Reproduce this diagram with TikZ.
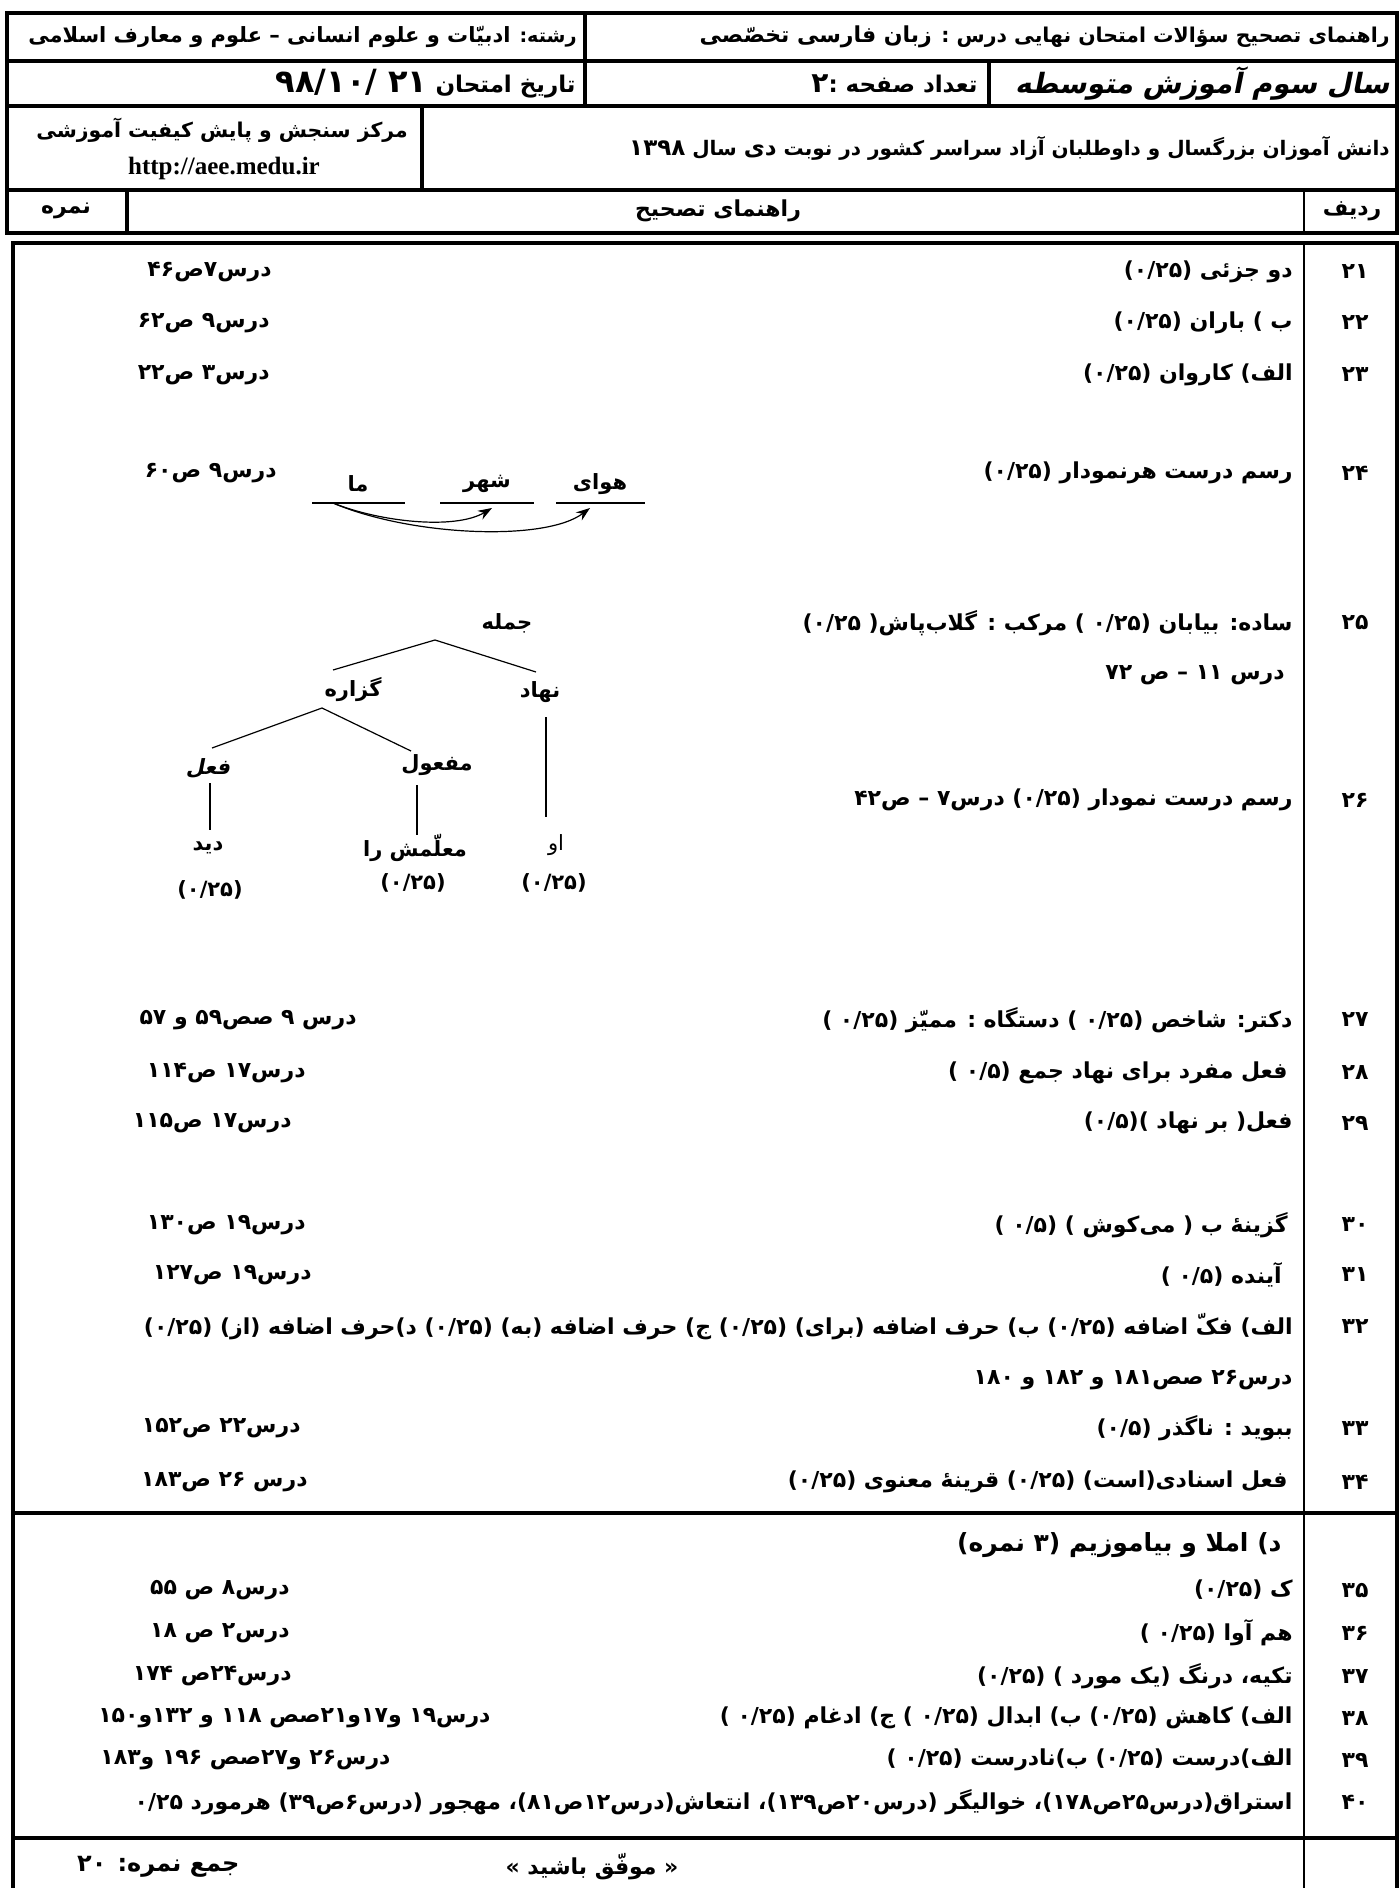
\documentclass[tikz,border=0pt]{standalone}
\usepackage{fontspec}
\usetikzlibrary{arrows.meta,calc,positioning}
\setmainfont{Liberation Serif}
\newfontfamily\fa[Script=Arabic]{DejaVu Sans}
\newfontfamily\fasl[Script=Arabic,FakeSlant=0.2]{DejaVu Sans}
\TeXXeTstate=1
\newcommand{\titr}[2][11]{{\fontsize{#1}{14}\selectfont #2}}

\begin{document}
\begin{tikzpicture}[x=0.5pt,y=-0.5pt,
    hline/.style={line width=1.6pt},
    frame/.style={line width=2pt},
    sepline/.style={line width=0.8pt},
    treeline/.style={line width=0.6pt},
    head/.style={anchor=east,inner sep=0pt,font=\fa\bfseries\fontsize{10.2}{13}\selectfont},
    ans/.style={anchor=east,inner sep=0pt,font=\fa\bfseries\fontsize{11}{13}\selectfont},
    dars/.style={ans},
    radif/.style={inner sep=0pt,font=\fa\bfseries\fontsize{11}{13}\selectfont},
    word/.style={inner sep=0pt,font=\fa\bfseries\fontsize{10.5}{12}\selectfont}]
\useasboundingbox (0,0) rectangle (1399,1888);

% header
\draw[hline] (7,13) rectangle (1397,233);
\draw[hline] (7,61) -- (1397,61);
\draw[hline] (7,106) -- (1397,106);
\draw[hline] (7,190) -- (1397,190);
\draw[hline] (585,13) -- (585,106);
\draw[hline] (989,61) -- (989,106);
\draw[hline] (422,106) -- (422,190);
\draw[hline] (127,190) -- (127,233);
\draw[sepline] (1304,190) -- (1304,233);

\node[head] (h1) at (1390,37) {\beginR راهنمای تصحیح سؤالات امتحان نهایی درس :  \titr{زبان فارسی تخصّصی}\endR};
\node[head,font=\fa\bfseries\fontsize{9.6}{13}\selectfont] (h2) at (577,37) {\beginR رشته: \titr[10.5]{ادبیّات و علوم انسانی – علوم و معارف اسلامی}\endR};
\node[head,font=\fasl\bfseries\fontsize{14}{16}\selectfont] (h3) at (1390,84) {\beginR سال سوم آموزش متوسطه\endR};
\node[head,font=\fa\bfseries\fontsize{11.5}{13}\selectfont] (h4) at (978,84) {\beginR تعداد صفحه :\titr[14]{۲}\endR};
\node[head,font=\fa\bfseries\fontsize{11.5}{13}\selectfont] (h5) at (576,84) {\beginR تاریخ امتحان  \titr[16]{\beginL ۹۸\kern0pt/\kern0pt۱۰\kern0pt/\kern0pt\ ۲۱\endL}\endR};
\node[head,font=\fa\bfseries\fontsize{10}{13}\selectfont] (h6) at (1390,148) {\beginR دانش آموزان بزرگسال و داوطلبان آزاد سراسر کشور در نوبت \titr[11.5]{دی} سال \titr[11.5]{۱۳۹۸}\endR};
\node[head,anchor=center] (h7) at (222,130) {\beginR مرکز سنجش و پایش کیفیت آموزشی\endR};
\node[inner sep=0pt,font=\bfseries\fontsize{12.5}{14}\selectfont] (h8) at (224,168) {http://aee.medu.ir};
\node[radif] (h9) at (1352,211) {\beginR ردیف\endR};
\node[radif] (h10) at (718,211) {\beginR راهنمای تصحیح\endR};
\node[radif] (h11) at (66,211) {\beginR نمره\endR};

% body frame
\draw[frame] (13,1888) -- (13,243) -- (1397,243) -- (1397,1888);
\draw[frame] (13,1513) -- (1397,1513);
\draw[frame] (13,1838) -- (1397,1838);
\draw[sepline] (1304,243) -- (1304,1888);

% row numbers
\foreach \y/\t [count=\i] in {272/۲۱,323/۲۲,375/۲۳,473/۲۴,623/۲۵,800/۲۶,1020/۲۷,1073/۲۸,1123/۲۹,
    1225/۳۰,1275/۳۱,1327/۳۲,1428/۳۳,1482/۳۴,1590/۳۵,1633/۳۶,1676/۳۷,1718/۳۸,1760/۳۹,1802/۴۰}
    {\node[radif] (n\i) at (1355,\y) {\beginR\t\endR};}

% answers
\node[ans] (a21) at (1293,272) {\beginR دو جزئی (۰/۲۵)\endR};
\node[ans] (a22) at (1293,323) {\beginR ب ) باران (۰/۲۵)\endR};
\node[ans] (a23) at (1293,375) {\beginR الف) کاروان  (۰/۲۵)\endR};
\node[ans] (a24) at (1293,473) {\beginR رسم درست هرنمودار  (۰/۲۵)\endR};
\node[ans] (a25) at (1293,623) {\beginR ساده: بیابان (۰/۲۵ ) مرکب : گلاب‌پاش( ۰/۲۵)\endR};
\node[ans] (a25b) at (1285,675) {\beginR درس ۱۱ – ص ۷۲\endR};
\node[ans] (a26) at (1293,800) {\beginR رسم درست نمودار (۰/۲۵)    درس۷ – ص۴۲\endR};
\node[ans] (a27) at (1293,1020) {\beginR دکتر: شاخص (۰/۲۵ )  دستگاه : ممیّز (۰/۲۵ )\endR};
\node[ans] (a28) at (1288,1073) {\beginR فعل مفرد برای نهاد جمع  (۰/۵ )\endR};
\node[ans] (a29) at (1293,1123) {\beginR فعل( بر نهاد )(۰/۵)\endR};
\node[ans] (a30) at (1288,1225) {\beginR گزینهٔ ب ( می‌کوش ) (۰/۵ )\endR};
\node[ans] (a31) at (1282,1275) {\beginR آینده  (۰/۵ )\endR};
\node[ans] (a32) at (1293,1327) {\beginR الف) فکّ اضافه (۰/۲۵) ب) حرف اضافه  (برای)  (۰/۲۵)  ج) حرف اضافه  (به)  (۰/۲۵)  د)حرف اضافه  (از) (۰/۲۵)\endR};
\node[ans] (a32b) at (1293,1380) {\beginR درس۲۶ صص۱۸۱  و ۱۸۲ و ۱۸۰\endR};
\node[ans] (a33) at (1293,1428) {\beginR ببوید : ناگذر (۰/۵)\endR};
\node[ans] (a34) at (1288,1482) {\beginR فعل اسنادی(است) (۰/۲۵)   قرینهٔ معنوی (۰/۲۵)\endR};
\node[ans,font=\fa\bfseries\fontsize{12.5}{14}\selectfont] (sec) at (1282,1545) {\beginR د)  املا و بیاموزیم (۳ نمره)\endR};
\node[ans] (a35) at (1293,1590) {\beginR ک  (۰/۲۵)\endR};
\node[ans] (a36) at (1293,1633) {\beginR هم آوا  (۰/۲۵ )\endR};
\node[ans] (a37) at (1293,1676) {\beginR تکیه، درنگ (یک مورد ) (۰/۲۵)\endR};
\node[ans] (a38) at (1293,1718) {\beginR الف) کاهش  (۰/۲۵)    ب) ابدال  (۰/۲۵ )     ج) ادغام  (۰/۲۵ )\endR};
\node[ans] (a39) at (1293,1760) {\beginR الف)درست (۰/۲۵)       ب)نادرست  (۰/۲۵ )\endR};
\node[ans] (a40) at (1293,1802) {\beginR استراق(درس۲۵ص۱۷۸)،  خوالیگر (درس۲۰ص۱۳۹)،  انتعاش(درس۱۲ص۸۱)،  مهجور (درس۶ص۳۹)  هرمورد ۰/۲۵\endR};

% lesson references
\node[dars] (d21) at (272,272) {\beginR درس۷ص۴۶\endR};
\node[dars] (d22) at (270,323) {\beginR درس۹ ص۶۲\endR};
\node[dars] (d23) at (270,375) {\beginR درس۳ ص۲۲\endR};
\node[dars] (d24) at (277,473) {\beginR درس۹ ص۶۰\endR};
\node[dars] (d27) at (357,1020) {\beginR درس ۹  صص۵۹ و ۵۷\endR};
\node[dars] (d28) at (306,1073) {\beginR درس۱۷ ص۱۱۴\endR};
\node[dars] (d29) at (292,1123) {\beginR درس۱۷ ص۱۱۵\endR};
\node[dars] (d30) at (306,1225) {\beginR درس۱۹  ص۱۳۰\endR};
\node[dars] (d31) at (312,1275) {\beginR درس۱۹ ص۱۲۷\endR};
\node[dars] (d33) at (301,1428) {\beginR درس۲۲ ص۱۵۲\endR};
\node[dars] (d34) at (308,1482) {\beginR درس ۲۶ ص۱۸۳\endR};
\node[dars] (d35) at (290,1590) {\beginR درس۸ ص ۵۵\endR};
\node[dars] (d36) at (290,1633) {\beginR درس۲ ص ۱۸\endR};
\node[dars] (d37) at (292,1676) {\beginR درس۲۴ص  ۱۷۴\endR};
\node[dars] (d38) at (491,1718) {\beginR درس۱۹ و۱۷و۲۱صص ۱۱۸  و ۱۳۲و۱۵۰\endR};
\node[dars] (d39) at (391,1760) {\beginR درس۲۶ و۲۷صص ۱۹۶  و۱۸۳\endR};

% footer
\node[radif] (f1) at (592,1867) {\beginR « موفّق باشید »\endR};
\node[dars,font=\fa\bfseries\fontsize{12}{14}\selectfont] (f2) at (240,1867) {\beginR جمع نمره: ۲۰\endR};

% row 24: arrows
\node[word] (ma) at (358,484) {\beginR ما\endR};
\node[word] (shahr) at (487,484) {\beginR شهر\endR};
\node[word] (havay) at (600,484) {\beginR هوای\endR};
\draw[treeline] (312,503) -- (405,503);
\draw[treeline] (440,503) -- (534,503);
\draw[treeline] (556,503) -- (645,503);
\coordinate (st) at (333,503);
\coordinate (e1) at (492,508);
\coordinate (e2) at (590,508);
\draw[treeline,-{Stealth[length=7pt,width=5pt]}] (st) .. controls (380,522) and (455,530) .. (e1);
\draw[treeline,-{Stealth[length=7pt,width=5pt]}] (st) .. controls (410,536) and (545,542) .. (e2);

% row 26: tree
\node[word] (jomle) at (507,623) {\beginR جمله\endR};
\coordinate (jt) at (435,640);
\coordinate (jl) at (333,670);
\coordinate (jr) at (536,672);
\draw[treeline] (jl) -- (jt) -- (jr);
\node[word] (gozare) at (353,690) {\beginR گزاره\endR};
\node[word] (nahad) at (540,692) {\beginR نهاد\endR};
\coordinate (gt) at (322,708);
\coordinate (gl) at (212,748);
\coordinate (gr) at (411,751);
\draw[treeline] (gl) -- (gt) -- (gr);
\node[word,font=\fasl\bfseries\fontsize{10.5}{12}\selectfont] (feel) at (208,768) {\beginR فعل\endR};
\node[word] (mafool) at (437,765) {\beginR مفعول\endR};
\node[word] (did) at (208,848) {\beginR دید\endR};
\node[word] (moalem) at (415,848) {\beginR معلّمش را\endR};
\node[word,font=\fa\fontsize{10.5}{12}\selectfont] (u) at (556,845) {\beginR او\endR};
\coordinate (f1t) at (210,783);
\coordinate (f1b) at (210,830);
\coordinate (m1t) at (417,785);
\coordinate (m1b) at (417,835);
\coordinate (n1t) at (546,717);
\coordinate (n1b) at (546,817);
\draw[treeline] (f1t) -- (f1b);
\draw[treeline] (m1t) -- (m1b);
\draw[treeline] (n1t) -- (n1b);
\node[word] (s1) at (210,890) {\beginR (۰/۲۵)\endR};
\node[word] (s2) at (413,883) {\beginR (۰/۲۵)\endR};
\node[word] (s3) at (554,883) {\beginR (۰/۲۵)\endR};
\end{tikzpicture}
\end{document}
